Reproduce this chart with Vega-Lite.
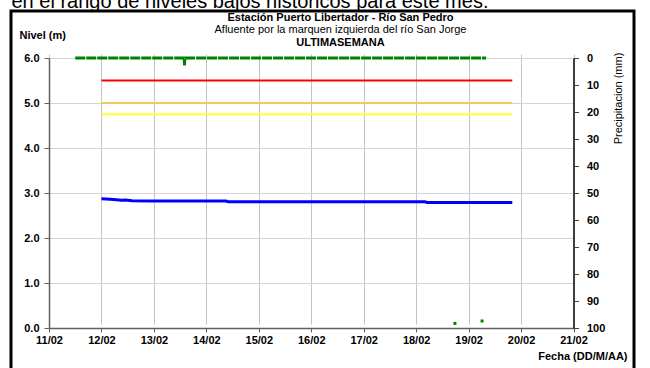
{
  "$schema": "https://vega.github.io/schema/vega-lite/v6.json",
  "autosize": {"type": "none"},
  "padding": {"left": 11, "top": 11, "right": 16, "bottom": 0},
  "width": 623,
  "height": 360,
  "background": "white",
  "config": {
    "view": {"stroke": "#000000", "strokeWidth": 3, "fill": "white"},
    "font": "Liberation Sans",
    "axis": {
      "labelFont": "Liberation Sans",
      "labelFontSize": 11,
      "labelFontWeight": "bold",
      "labelColor": "#000000",
      "titleFont": "Liberation Sans",
      "titleColor": "#000000",
      "domainColor": "#606060",
      "tickColor": "#606060",
      "gridColor": "#cccccc"
    }
  },
  "datasets": {
    "nivel": [
      {"fecha": "2013-02-12T00:00", "nivel": 2.87},
      {"fecha": "2013-02-12T04:00", "nivel": 2.86},
      {"fecha": "2013-02-12T07:00", "nivel": 2.85},
      {"fecha": "2013-02-12T09:00", "nivel": 2.84},
      {"fecha": "2013-02-12T11:00", "nivel": 2.845},
      {"fecha": "2013-02-12T14:00", "nivel": 2.83},
      {"fecha": "2013-02-12T22:00", "nivel": 2.82},
      {"fecha": "2013-02-14T09:00", "nivel": 2.82},
      {"fecha": "2013-02-14T10:00", "nivel": 2.805},
      {"fecha": "2013-02-18T04:00", "nivel": 2.805},
      {"fecha": "2013-02-18T05:00", "nivel": 2.79},
      {"fecha": "2013-02-19T20:00", "nivel": 2.79}
    ],
    "umbrales": [
      {"inicio": "2013-02-12T00:00", "fin": "2013-02-19T20:00", "nivel": 5.5, "tipo": "rojo"},
      {"inicio": "2013-02-12T00:00", "fin": "2013-02-19T20:00", "nivel": 5.0, "tipo": "naranja"},
      {"inicio": "2013-02-12T00:00", "fin": "2013-02-19T20:00", "nivel": 4.75, "tipo": "amarillo"}
    ],
    "precipitacion": [
      {"fecha": "2013-02-11T12:00", "mm": 0},
      {"fecha": "2013-02-13T13:50", "mm": 0},
      {"fecha": "2013-02-13T14:00", "mm": 2.2},
      {"fecha": "2013-02-13T14:10", "mm": 0},
      {"fecha": "2013-02-19T08:00", "mm": 0}
    ],
    "puntos": [
      {"fecha": "2013-02-13T14:00", "mm": 2.2},
      {"fecha": "2013-02-18T17:45", "mm": 98.3},
      {"fecha": "2013-02-19T06:10", "mm": 97.4}
    ]
  },
  "resolve": {
    "scale": {"y": "independent"},
    "axis": {"x": "independent", "y": "independent"}
  },
  "layer": [
    {
      "data": {"name": "nivel"},
      "mark": {"type": "line", "color": "#0000ff", "strokeWidth": 3, "interpolate": "linear"},
      "encoding": {
        "x": {
          "field": "fecha", "type": "temporal",
          "scale": {"domain": [{"year": 2013, "month": 2, "date": 11}, {"year": 2013, "month": 2, "date": 21}], "range": [38, 562.5], "nice": false},
          "axis": {
            "orient": "bottom", "offset": -43,
            "tickCount": {"interval": "day", "step": 1},
            "format": "%d/%m", "labelFlush": false, "labelOverlap": false,
            "grid": true, "gridColor": "#c4c4c4", "gridWidth": 1,
            "tickSize": 4, "labelPadding": 2, "domainWidth": 1.5,
            "title": "Fecha (DD/M/AA)", "titleX": 616, "titleY": 28,
            "titleAlign": "right", "titleBaseline": "middle",
            "titleFontSize": 11, "titleFontWeight": "bold"
          }
        },
        "y": {
          "field": "nivel", "type": "quantitative",
          "scale": {"domain": [0, 6], "range": [317, 47], "nice": false, "zero": false},
          "axis": {
            "orient": "left", "offset": -38,
            "values": [0, 1, 2, 3, 4, 5, 6], "format": ".1f",
            "grid": true, "gridColor": "#d4d4d4", "gridWidth": 1.2,
            "tickSize": 5, "labelPadding": 5, "domainWidth": 1.5,
            "title": "Nivel (m)", "titleAngle": 0, "titleX": -30, "titleY": 24,
            "titleAlign": "left", "titleBaseline": "middle",
            "titleFontSize": 11, "titleFontWeight": "bold"
          }
        }
      }
    },
    {
      "data": {"name": "umbrales"},
      "mark": {"type": "rule", "strokeWidth": 2},
      "encoding": {
        "x": {
          "field": "inicio", "type": "temporal",
          "scale": {"domain": [{"year": 2013, "month": 2, "date": 11}, {"year": 2013, "month": 2, "date": 21}], "range": [38, 562.5], "nice": false},
          "axis": {
            "orient": "top", "domain": false, "ticks": false, "labels": false, "grid": false,
            "title": "Estación Puerto Libertador - Río San Pedro",
            "titleX": 329, "titleY": 6, "titleAlign": "center", "titleBaseline": "middle",
            "titleFontSize": 11, "titleFontWeight": "bold"
          }
        },
        "x2": {"field": "fin"},
        "y": {
          "field": "nivel", "type": "quantitative",
          "scale": {"domain": [0, 6], "range": [317, 47], "nice": false, "zero": false},
          "axis": {
            "orient": "left", "domain": false, "ticks": false, "labels": false, "grid": false,
            "title": "en el rango de niveles bajos históricos para este mes.",
            "titleAngle": 0, "titleX": 0, "titleY": -4,
            "titleAlign": "left", "titleBaseline": "alphabetic",
            "titleFontSize": 20, "titleFontWeight": "normal"
          }
        },
        "color": {
          "field": "tipo", "type": "nominal",
          "scale": {"domain": ["rojo", "naranja", "amarillo"], "range": ["#ff0000", "#f0c860", "#ffff33"]},
          "legend": null
        }
      }
    },
    {
      "data": {"name": "precipitacion"},
      "mark": {"type": "line", "color": "#008000", "strokeWidth": 3, "strokeDash": [10, 1]},
      "encoding": {
        "x": {
          "field": "fecha", "type": "temporal",
          "scale": {"domain": [{"year": 2013, "month": 2, "date": 11}, {"year": 2013, "month": 2, "date": 21}], "range": [38, 562.5], "nice": false},
          "axis": {
            "orient": "top", "domain": false, "ticks": false, "labels": false, "grid": false,
            "title": "Afluente por la marquen izquierda del río San Jorge",
            "titleX": 329, "titleY": 18, "titleAlign": "center", "titleBaseline": "middle",
            "titleFontSize": 11, "titleFontWeight": "normal"
          }
        },
        "y": {
          "field": "mm", "type": "quantitative",
          "scale": {"domain": [0, 100], "range": [47, 317], "nice": false, "zero": false},
          "axis": {
            "orient": "right", "offset": -60.5,
            "values": [0, 10, 20, 30, 40, 50, 60, 70, 80, 90, 100], "format": "d",
            "grid": false, "tickSize": 5, "labelPadding": 8,
            "domainWidth": 2, "domainColor": "#404040", "tickColor": "#404040",
            "title": "Precipitacion (mm)", "titleAngle": 270, "titleX": 45, "titleY": 87,
            "titleAlign": "center", "titleBaseline": "middle",
            "titleFontSize": 11, "titleFontWeight": "normal"
          }
        }
      }
    },
    {
      "data": {"name": "puntos"},
      "mark": {"type": "square", "color": "#008000", "size": 9, "opacity": 1},
      "encoding": {
        "x": {
          "field": "fecha", "type": "temporal",
          "scale": {"domain": [{"year": 2013, "month": 2, "date": 11}, {"year": 2013, "month": 2, "date": 21}], "range": [38, 562.5], "nice": false},
          "axis": {
            "orient": "top", "domain": false, "ticks": false, "labels": false, "grid": false,
            "title": "ULTIMASEMANA",
            "titleX": 329, "titleY": 31, "titleAlign": "center", "titleBaseline": "middle",
            "titleFontSize": 11, "titleFontWeight": "bold"
          }
        },
        "y": {
          "field": "mm", "type": "quantitative",
          "scale": {"domain": [0, 100], "range": [47, 317], "nice": false, "zero": false},
          "axis": null
        }
      }
    }
  ]
}
